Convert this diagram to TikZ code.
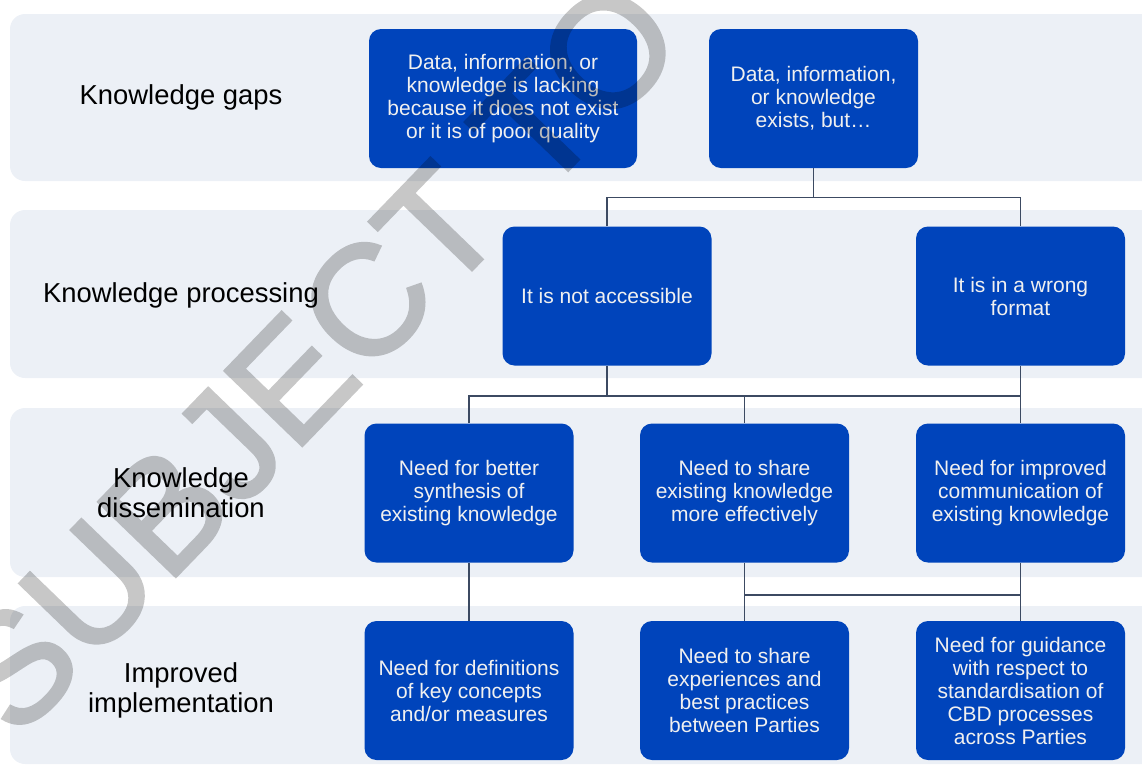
\documentclass[tikz,border=0pt]{standalone}
\usepackage{fontspec}
\setmainfont{Liberation Sans}
\newfontfamily\tebal{Liberation Sans}[BoldFont={Liberation Sans},BoldFeatures={FakeBold=2}]
\usepackage{xcolor}
\usetikzlibrary{calc}

\definecolor{latar}{RGB}{236,240,246}
\definecolor{biru}{RGB}{0,68,187}
\definecolor{abu}{RGB}{60,74,98}

\begin{document}
\begin{tikzpicture}[
    x=0.5pt, y=-0.5pt,
    pita/.style={fill=latar, rounded corners=7.5pt},
    kotak/.style={fill=biru, text=white!94!black, rounded corners=6pt, align=center,
                  minimum width=104.5pt, minimum height=69.5pt, inner sep=2pt,
                  font=\fontsize{10.5}{11.5}\selectfont},
    judul/.style={align=center, font=\fontsize{13.7}{15}\selectfont},
    garis/.style={draw=abu, line width=0.75pt},
    tanda/.style={rotate=46, text=black,
                  font=\tebal\bfseries\fontsize{78}{78}\selectfont}
  ]
    \useasboundingbox (0,0) rectangle (1142,767);
    % pita tiap tingkat
    \fill[pita] (10,14) rectangle (1170,181);
    \fill[pita] (10,210) rectangle (1170,378);
    \fill[pita] (10,408) rectangle (1170,577);
    \fill[pita] (10,606) rectangle (1170,764);

    \node[judul] (j1) at (181,97) {Knowledge gaps};
    \node[judul] (j2) at (181,295) {Knowledge processing};
    \node[judul] (j3) at (181,493) {Knowledge\\dissemination};
    \node[judul] (j4) at (181,690) {Improved\\implementation};

    \node[kotak, minimum width=134pt] (kurang) at (503,98.5)
      {Data, information, or\\knowledge is lacking\\because it does not exist\\or it is of poor quality};
    \node[kotak] (ada) at (813.5,98.5) {Data, information,\\or knowledge\\exists, but…};
    \node[kotak] (takakses) at (607,296) {It is not accessible};
    \node[kotak] (format) at (1020.5,296) {It is in a wrong\\format};
    \node[kotak] (sintesis) at (469,493) {Need for better\\synthesis of\\existing knowledge};
    \node[kotak] (berbagi) at (744.5,493) {Need to share\\existing knowledge\\more effectively};
    \node[kotak] (komunikasi) at (1020.5,493) {Need for improved\\communication of\\existing knowledge};
    \node[kotak] (definisi) at (469,690.5) {Need for definitions\\of key concepts\\and/or measures};
    \node[kotak] (pengalaman) at (744.5,690.5) {Need to share\\experiences and\\best practices\\between Parties};
    \node[kotak] (panduan) at (1020.5,690.5) {Need for guidance\\with respect to\\standardisation of\\CBD processes\\across Parties};

    % garis penghubung
    \draw[garis] (ada.south) -- ++(0,29) coordinate (bus1);
    \draw[garis] (takakses.north) |- (bus1) -| (format.north);
    \draw[garis] (takakses.south) -- ++(0,30) coordinate (bus2);
    \draw[garis] (sintesis.north) |- (bus2) -| (format.south);
    \draw[garis] (berbagi.north) -- (berbagi.north |- bus2);
    \draw[garis] (format.south) -- (komunikasi.north);
    \draw[garis] (sintesis.south) -- (definisi.north);
    \draw[garis] (berbagi.south) -- (pengalaman.north);
    \draw[garis] (komunikasi.south) -- (panduan.north);
    \path (berbagi.south) ++(0,32) coordinate (bus3);
    \draw[garis] (bus3) -- (bus3 -| panduan.north);

    \begin{scope}[transparency group, opacity=0.22]
      \node[tanda] (cap) at (314,356) {SUBJECT TO};
    \end{scope}
  \end{tikzpicture}
\end{document}
